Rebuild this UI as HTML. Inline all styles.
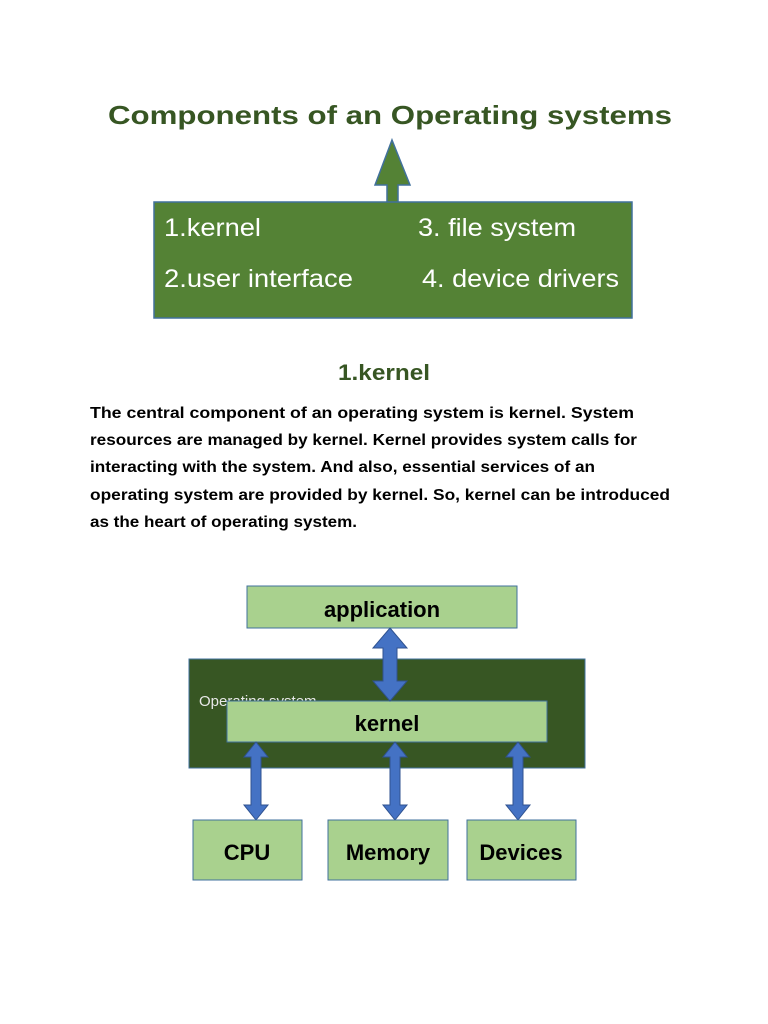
<!DOCTYPE html>
<html><head><meta charset="utf-8"><style>
html,body{margin:0;padding:0;background:#fff;}
svg{display:block}
</style></head><body>
<svg width="768" height="1024" viewBox="0 0 768 1024" xmlns="http://www.w3.org/2000/svg" font-family="Liberation Sans, sans-serif">
<rect width="768" height="1024" fill="#fff"/>
<text x="108" y="124" font-size="26" font-weight="bold" fill="#375623" textLength="564" lengthAdjust="spacingAndGlyphs">Components of an Operating systems</text>
<!-- up arrow -->
<polygon points="392,140 410,185 398,185 398,203 387,203 387,185 375,185" fill="#548235" stroke="#41719c" stroke-width="1.5"/>
<rect x="154" y="202" width="478" height="116" fill="#548235" stroke="#41719c" stroke-width="1.5"/>
<g fill="#fff" font-size="25">
<text x="164" y="236" textLength="97" lengthAdjust="spacingAndGlyphs">1.kernel</text>
<text x="418" y="236" textLength="158" lengthAdjust="spacingAndGlyphs">3. file system</text>
<text x="164" y="287" textLength="189" lengthAdjust="spacingAndGlyphs">2.user interface</text>
<text x="422" y="287" textLength="197" lengthAdjust="spacingAndGlyphs">4. device drivers</text>
</g>
<text x="338" y="380" font-size="22" font-weight="bold" fill="#375623" textLength="92" lengthAdjust="spacingAndGlyphs">1.kernel</text>
<g font-size="16" font-weight="bold" fill="#000">
<text x="90" y="418" textLength="544" lengthAdjust="spacingAndGlyphs">The central component of an operating system is kernel. System</text>
<text x="90" y="445" textLength="547" lengthAdjust="spacingAndGlyphs">resources are managed by kernel. Kernel provides system calls for</text>
<text x="90" y="472" textLength="505" lengthAdjust="spacingAndGlyphs">interacting with the system. And also, essential services of an</text>
<text x="90" y="500" textLength="580" lengthAdjust="spacingAndGlyphs">operating system are provided by kernel. So, kernel can be introduced</text>
<text x="90" y="527" textLength="267" lengthAdjust="spacingAndGlyphs">as the heart of operating system.</text>
</g>
<!-- diagram -->
<rect x="247" y="586" width="270" height="42" fill="#a9d18e" stroke="#41719c" stroke-width="1"/>
<text x="382" y="617" font-size="22" font-weight="bold" text-anchor="middle" fill="#000">application</text>
<rect x="189" y="659" width="396" height="109" fill="#375623" stroke="#41719c" stroke-width="1"/>
<text x="199" y="706" font-size="15" fill="#e8e8e8">Operating system</text>
<rect x="227" y="701" width="320" height="41" fill="#a9d18e" stroke="#41719c" stroke-width="1"/>
<text x="387" y="731" font-size="22" font-weight="bold" text-anchor="middle" fill="#000">kernel</text>
<g fill="#4472c4" stroke="#2f528f" stroke-width="1">
<polygon points="390,628 407,648 397,648 397,681 407,681 390,701 373,681 383,681 383,648 373,648"/>
<polygon points="256,742 268,757 261,757 261,805 268,805 256,820 244,805 251,805 251,757 244,757"/>
<polygon points="395,742 407,757 400,757 400,805 407,805 395,820 383,805 390,805 390,757 383,757"/>
<polygon points="518,742 530,757 523,757 523,805 530,805 518,820 506,805 513,805 513,757 506,757"/>
</g>
<rect x="193" y="820" width="109" height="60" fill="#a9d18e" stroke="#41719c" stroke-width="1"/>
<rect x="328" y="820" width="120" height="60" fill="#a9d18e" stroke="#41719c" stroke-width="1"/>
<rect x="467" y="820" width="109" height="60" fill="#a9d18e" stroke="#41719c" stroke-width="1"/>
<g font-size="22" font-weight="bold" text-anchor="middle" fill="#000">
<text x="247" y="860">CPU</text>
<text x="388" y="860">Memory</text>
<text x="521" y="860">Devices</text>
</g>
</svg>
</body></html>
